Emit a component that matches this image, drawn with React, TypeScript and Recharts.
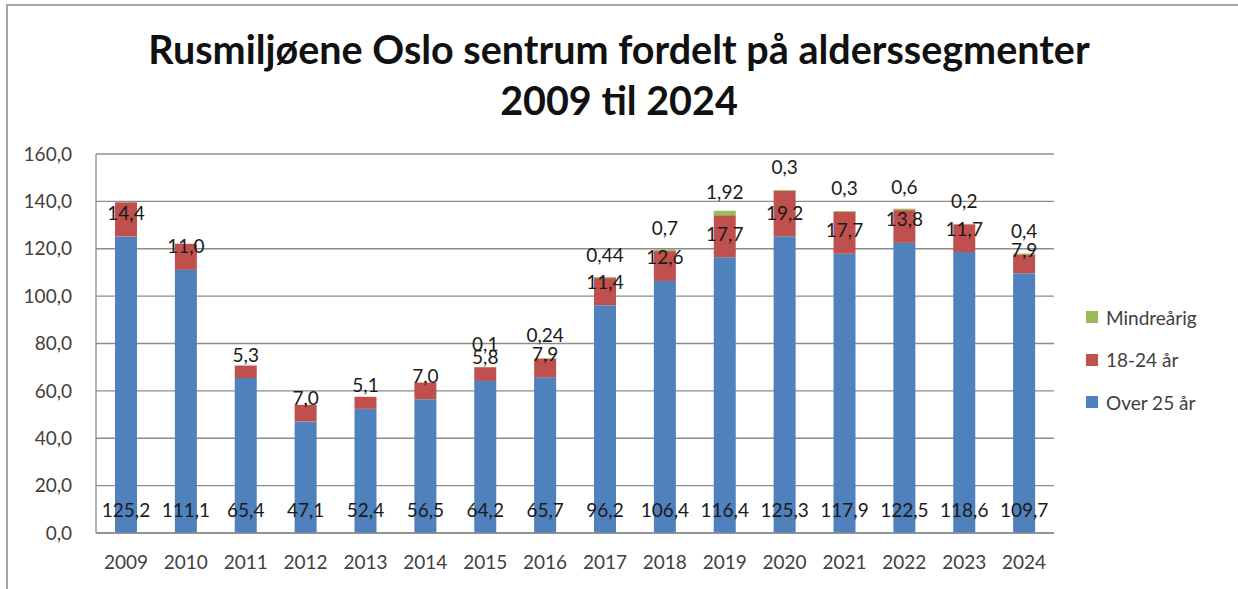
import React from "react";
import { BarChart, Bar, XAxis, YAxis, CartesianGrid, LabelList } from "recharts";

const years = ["2009", "2010", "2011", "2012", "2013", "2014", "2015", "2016", "2017", "2018", "2019", "2020", "2021", "2022", "2023", "2024"];
const over25 = [125.2, 111.1, 65.4, 47.1, 52.4, 56.5, 64.2, 65.7, 96.2, 106.4, 116.4, 125.3, 117.9, 122.5, 118.6, 109.7];
const age1824 = [14.4, 11.0, 5.3, 7.0, 5.1, 7.0, 5.8, 7.9, 11.4, 12.6, 17.7, 19.2, 17.7, 13.8, 11.7, 7.9];
const minor: (number | null)[] = [null, null, null, null, null, null, 0.1, 0.24, 0.44, 0.7, 1.92, 0.3, 0.3, 0.6, 0.2, 0.4];
const yTicks = [0, 20, 40, 60, 80, 100, 120, 140, 160];

const data = years.map((y, i) => ({ year: y, over25: over25[i], a1824: age1824[i], minor: minor[i] }));

const BLUE = "#4F81BD";
const RED = "#C0504D";
const GREEN = "#9BBB59";
const FONT = "Lato, 'Open Sans', sans-serif";

const fmt1 = (v: number) => v.toFixed(1).replace(".", ",");
const fmtRaw = (v: number) => String(v).replace(".", ",");

const makeLabel = (formatter: (v: number) => string) => (props: any) => {
  const { x, y, width, height, value } = props;
  if (value === null || value === undefined) return null;
  const cx = Number(x) + Number(width) / 2;
  const base = Number(y) + Number(height);
  return (
    <text x={cx} y={base - 24} textAnchor="middle" dominantBaseline="central" fontFamily={FONT} fontSize={19} fill="#1a1a1a">
      {formatter(Number(value))}
    </text>
  );
};

const legendItems = [
  { name: "Mindreårig", color: GREEN },
  { name: "18-24 år", color: RED },
  { name: "Over 25 år", color: BLUE },
];

export default function App() {
  return (
    <div style={{ position: "absolute", left: 0, top: 0, width: 1238, height: 589, overflow: "hidden", background: "#fff" }}>
      <div style={{ position: "absolute", left: 6, top: 4, width: 1400, height: 800, border: "2px solid #a6a6a6", boxSizing: "border-box" }} />
      <div style={{ position: "absolute", left: 0, top: 23, width: 1238, textAlign: "center", fontFamily: FONT, fontWeight: 700, fontSize: 39.5, lineHeight: "51px", color: "#111" }}>
        <div>Rusmiljøene Oslo sentrum fordelt på alderssegmenter</div>
        <div>2009 til 2024</div>
      </div>
      <div style={{ position: "absolute", left: 0, top: 0 }}>
        <BarChart width={1238} height={589} data={data} margin={{ top: 154, right: 184, bottom: 0, left: 0 }}>
          <CartesianGrid vertical={false} stroke="#8c8c8c" strokeWidth={1.3} />
          <XAxis dataKey="year" height={56} tickLine={false} tickSize={0} tickMargin={23} axisLine={{ stroke: "#8c8c8c", strokeWidth: 1.3 }} tick={{ fill: "#404040", fontSize: 19, fontFamily: FONT }} interval={0} />
          <YAxis width={96} domain={[0, 160]} ticks={yTicks} tickFormatter={(v: number) => fmt1(v)} tickLine={false} tickSize={0} tickMargin={24} axisLine={{ stroke: "#8c8c8c", strokeWidth: 1.3 }} tick={{ fill: "#404040", fontSize: 19, fontFamily: FONT }} />
          <Bar dataKey="over25" name="Over 25 år" stackId="a" fill={BLUE} barSize={22} isAnimationActive={false}>
            <LabelList dataKey="over25" content={makeLabel(fmt1)} />
          </Bar>
          <Bar dataKey="a1824" name="18-24 år" stackId="a" fill={RED} barSize={22} isAnimationActive={false}>
            <LabelList dataKey="a1824" content={makeLabel(fmt1)} />
          </Bar>
          <Bar dataKey="minor" name="Mindreårig" stackId="a" fill={GREEN} barSize={22} isAnimationActive={false}>
            <LabelList dataKey="minor" content={makeLabel(fmtRaw)} />
          </Bar>
        </BarChart>
      </div>
      <div style={{ position: "absolute", left: 1086, top: 296, fontFamily: FONT, fontSize: 19, color: "#404040" }}>
        {legendItems.map((it) => (
          <div key={it.name} style={{ display: "flex", alignItems: "center", height: 42.5 }}>
            <span style={{ display: "inline-block", width: 12, height: 12, background: it.color, marginRight: 8 }} />
            <span>{it.name}</span>
          </div>
        ))}
      </div>
    </div>
  );
}
